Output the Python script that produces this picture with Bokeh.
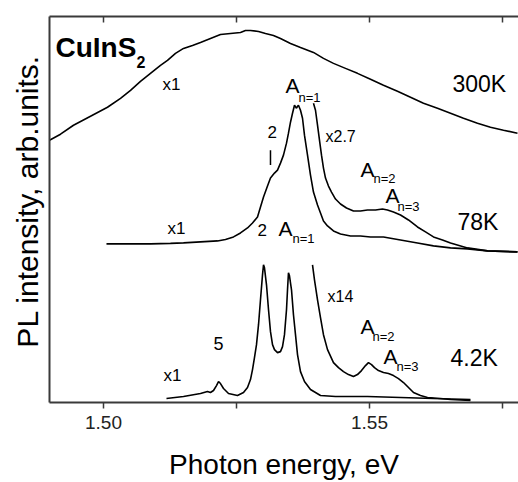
from bokeh.plotting import figure
from bokeh.models import Range1d, LinearAxis, FixedTicker, PrintfTickFormatter, CustomJSTickFormatter
from bokeh.core.properties import value
from bokeh.embed import file_html
from bokeh.resources import INLINE

# ---- data (photon energy in eV, PL intensity in arbitrary units) ----
e_300 = [1.48985, 1.49192, 1.49436, 1.49756, 1.50075, 1.50320, 1.50508, 1.50695, 1.50883, 1.51071,
         1.51203, 1.51353, 1.51504, 1.51673, 1.51823, 1.52011, 1.52199, 1.52387, 1.52575, 1.52669,
         1.52763, 1.52914, 1.53045, 1.53195, 1.53327, 1.53515, 1.53703, 1.53947, 1.54135, 1.54323,
         1.54549, 1.54774, 1.55019, 1.55263, 1.55526, 1.55771, 1.56015, 1.56278, 1.56523, 1.56767,
         1.57030, 1.57274, 1.57519, 1.57782]
i_300 = [263, 269, 278, 287, 296, 305, 313, 322, 330, 338,
         343, 350, 355, 358, 361, 365, 369, 370, 371, 373,
         373, 372, 370, 368, 365, 360, 356, 351, 345, 340,
         335, 330, 324, 318, 312, 306, 300, 295, 290, 285,
         280, 276, 273, 270]

e_78 = [1.50056, 1.50508, 1.50883, 1.51259, 1.51504, 1.51823, 1.52143, 1.52293, 1.52444, 1.52575,
        1.52707, 1.52801, 1.52895, 1.52951, 1.53008, 1.53083, 1.53139, 1.53214, 1.53271, 1.53327,
        1.53383, 1.53440, 1.53477, 1.53515, 1.53553, 1.53590, 1.53628, 1.53647, 1.53665, 1.53703,
        1.53741, 1.53778, 1.53835, 1.53891, 1.53947, 1.54023, 1.54079, 1.54135, 1.54211, 1.54323,
        1.54455, 1.54643, 1.54831, 1.55019, 1.55263, 1.55583, 1.55902, 1.56203, 1.56523, 1.56842,
        1.57218, 1.57782]
i_78 = [159, 159, 159, 159.5, 160, 161, 162, 163.5, 166, 170,
        175, 180, 186, 196, 206, 217, 225, 230, 233, 240,
        248, 260, 270, 281, 290, 298, 295, 297, 298, 293,
        285, 268, 248, 228, 211, 198, 190, 182, 177, 172,
        169, 167, 167, 166, 166, 163, 160, 157, 155, 154,
        152, 151]

e_78x = [1.53947, 1.53985, 1.54023, 1.54060, 1.54098, 1.54135, 1.54173, 1.54229, 1.54286, 1.54361,
         1.54455, 1.54568, 1.54699, 1.54831, 1.54962, 1.55113, 1.55244, 1.55338, 1.55451, 1.55583,
         1.55733, 1.55902, 1.56053, 1.56203, 1.56372, 1.56523, 1.56842, 1.57218, 1.57782]
i_78x = [300, 293, 278, 263, 248, 235, 225, 217, 211, 204,
         199, 195, 192, 192, 193, 193, 194, 193, 191, 188,
         183, 176, 171, 166, 163, 160, 155, 152, 151]

e_4 = [1.51184, 1.51504, 1.51823, 1.51955, 1.52011, 1.52068, 1.52124, 1.52162, 1.52199, 1.52256,
       1.52350, 1.52519, 1.52632, 1.52707, 1.52763, 1.52801, 1.52838, 1.52876, 1.52914, 1.52951,
       1.52989, 1.53008, 1.53026, 1.53064, 1.53102, 1.53139, 1.53177, 1.53214, 1.53271, 1.53327,
       1.53365, 1.53402, 1.53440, 1.53459, 1.53477, 1.53496, 1.53534, 1.53571, 1.53609, 1.53647,
       1.53703, 1.53778, 1.53891, 1.54079, 1.54361, 1.54962, 1.55583, 1.56203, 1.56898]
i_4 = [4, 6, 9, 11, 10, 12, 17, 21, 19, 14,
       9, 7, 10, 15, 23, 33, 45, 58, 78, 103,
       128, 138, 135, 118, 93, 71, 58, 53, 50, 51,
       56, 68, 93, 113, 130, 127, 113, 88, 68, 48,
       31, 21, 13, 7, 6, 6, 5, 4, 3]

e_4x = [1.53929, 1.53966, 1.54023, 1.54079, 1.54135, 1.54211, 1.54323, 1.54417, 1.54511, 1.54605,
        1.54699, 1.54774, 1.54850, 1.54925, 1.54981, 1.55038, 1.55094, 1.55169, 1.55263, 1.55357,
        1.55451, 1.55545, 1.55639, 1.55733, 1.55827, 1.55959, 1.56090, 1.56335, 1.56523, 1.56898]
i_4x = [138, 123, 103, 85, 68, 53, 40, 35, 31, 28,
        26, 28, 32, 37, 40, 38, 35, 32, 30, 29,
        27, 24, 20, 15, 10, 7, 5, 4, 3, 2]

major_ticks = [1.50, 1.55]
minor_ticks = [1.525, 1.575]

FONT = "Liberation Sans"
AX = "#3a3a3a"

p = figure(width=518, height=482,
           x_range=Range1d(1.48985, 1.57801), y_range=Range1d(0, 387),
           output_backend="svg", toolbar_location=None,
           x_axis_location=None, y_axis_location=None,
           min_border_left=49, min_border_right=0, min_border_top=16, min_border_bottom=79)
p.outline_line_color = None
p.xgrid.visible = False
p.ygrid.visible = False
p.background_fill_color = "white"
p.border_fill_color = "white"

xb = LinearAxis(ticker=FixedTicker(ticks=major_ticks, minor_ticks=minor_ticks),
                formatter=PrintfTickFormatter(format="%.2f"),
                axis_label="Photon energy, eV")
xb.axis_line_color = AX
xb.axis_line_width = 2
xb.major_tick_line_color = AX
xb.minor_tick_line_color = AX
xb.major_tick_line_width = 1.5
xb.minor_tick_line_width = 1.5
xb.major_tick_in = 0
xb.major_tick_out = 6
xb.minor_tick_in = 0
xb.minor_tick_out = 6
xb.major_label_text_font = FONT
xb.major_label_text_font_size = "19px"
xb.major_label_text_color = "#222222"
xb.major_label_text_line_height = 1.0
xb.major_label_standoff = 7
xb.axis_label_text_font = FONT
xb.axis_label_text_font_size = "28px"
xb.axis_label_text_font_style = "normal"
xb.axis_label_text_color = "black"
xb.axis_label_text_line_height = 1.0
xb.axis_label_standoff = 17
p.add_layout(xb, "below")

xt = LinearAxis(ticker=FixedTicker(ticks=major_ticks, minor_ticks=minor_ticks),
                formatter=CustomJSTickFormatter(code="return ''"))
xt.axis_line_color = AX
xt.axis_line_width = 2
xt.major_tick_line_color = AX
xt.minor_tick_line_color = AX
xt.major_tick_line_width = 1.5
xt.minor_tick_line_width = 1.5
xt.major_tick_in = 6
xt.major_tick_out = 0
xt.minor_tick_in = 6
xt.minor_tick_out = 0
xt.major_label_standoff = 0
p.add_layout(xt, "above")

yl = LinearAxis(ticker=FixedTicker(ticks=[]),
                axis_label="\u00a0\u00a0PL intensity, arb.units.")
yl.axis_line_color = AX
yl.axis_line_width = 2
yl.major_tick_in = 0
yl.major_tick_out = 0
yl.minor_tick_in = 0
yl.minor_tick_out = 0
yl.major_label_standoff = 0
yl.axis_label_text_font = FONT
yl.axis_label_text_font_size = "30px"
yl.axis_label_text_font_style = "normal"
yl.axis_label_text_color = "black"
yl.axis_label_standoff = 6
p.add_layout(yl, "left")

LW = 1.6
p.line(e_300, i_300, line_color="black", line_width=LW)
p.line(e_78, i_78, line_color="black", line_width=LW)
p.line(e_78x, i_78x, line_color="black", line_width=LW)
p.line(e_4, i_4, line_color="black", line_width=LW)
p.line(e_4x, i_4x, line_color="black", line_width=LW)

# shoulder marker "|"
p.segment(x0=[1.53139], y0=[238], x1=[1.53139], y1=[253], line_color="black", line_width=1.5)


def txt(x, y, s, size, bold=False):
    p.text(x=[x], y=[y], text=[s], text_font=value(FONT), text_font_size=size,
           text_font_style="bold" if bold else "normal", text_color="black",
           text_align="left", text_baseline="alphabetic")


txt(1.49098, 356, "CuInS", "28px", True)
txt(1.50620, 341, "2", "16px", True)

txt(1.51109, 319, "x1", "17px")
txt(1.56560, 319, "300K", "23px")

txt(1.53421, 318, "A", "21px")
txt(1.53665, 306, "n=1", "13px")
txt(1.53083, 271, "2", "17px")
txt(1.54173, 267, "x2.7", "16px")
txt(1.54831, 234, "A", "21px")
txt(1.55075, 225, "n=2", "13px")
txt(1.55301, 208, "A", "21px")
txt(1.55526, 197, "n=3", "13px")
txt(1.56654, 181, "78K", "23px")
txt(1.51203, 174, "x1", "17px")
txt(1.52895, 173, "2", "17px")
txt(1.53289, 174, "A", "21px")
txt(1.53553, 164, "n=1", "13px")

txt(1.54211, 106, "x14", "16px")
txt(1.54831, 76, "A", "21px")
txt(1.55056, 66, "n=2", "13px")
txt(1.55263, 46, "A", "21px")
txt(1.55508, 36, "n=3", "13px")
txt(1.56523, 45, "4.2K", "23px")
txt(1.52068, 59, "5", "18px")
txt(1.51128, 27, "x1", "17px")

open("out.html", "w").write(file_html(p, INLINE))
